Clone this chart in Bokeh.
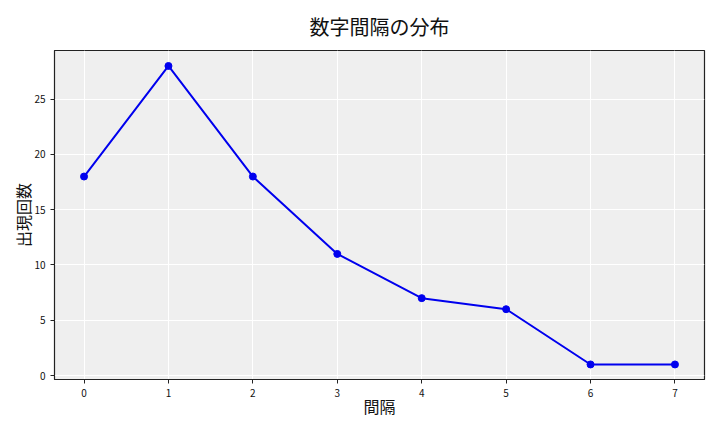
from bokeh.plotting import figure
from bokeh.embed import file_html
from bokeh.resources import INLINE
from bokeh.models import Range1d, FixedTicker, Spacer
from bokeh.layouts import row

gaps = [0, 1, 2, 3, 4, 5, 6, 7]
counts = [18, 28, 18, 11, 7, 6, 1, 1]
x_ticks = [0, 1, 2, 3, 4, 5, 6, 7]
y_ticks = [0, 5, 10, 15, 20, 25]

FONT = "Noto Sans CJK JP"

p = figure(output_backend="svg", toolbar_location=None,
           frame_width=650, frame_height=329,
           x_range=Range1d(-0.35, 7.35), y_range=Range1d(-0.36, 29.4),
           title="数字間隔の分布")
p.min_border_left = 0
p.min_border_right = 7
p.min_border_top = 0
p.min_border_bottom = 0

p.title.align = "center"
p.title.text_font = FONT
p.title.text_font_size = "20px"
p.title.text_font_style = "normal"
p.title.text_color = "#111111"
p.title.standoff = 19

p.background_fill_color = "#efefef"
p.border_fill_color = "white"
p.outline_line_color = "#222222"
p.outline_line_width = 1.2

p.xgrid.grid_line_color = "white"
p.ygrid.grid_line_color = "white"
p.xgrid.grid_line_width = 1
p.ygrid.grid_line_width = 1

for ax in (p.xaxis[0], p.yaxis[0]):
    ax.axis_line_color = "#222222"
    ax.major_tick_line_color = "#222222"
    ax.major_tick_out = 4
    ax.major_tick_in = 0
    ax.minor_tick_line_color = None
    ax.major_label_standoff = 5
    ax.major_label_text_font = FONT
    ax.major_label_text_font_size = "10px"
    ax.major_label_text_color = "#111111"
    ax.axis_label_text_font = FONT
    ax.axis_label_text_font_size = "16px"
    ax.axis_label_text_font_style = "normal"
    ax.axis_label_text_color = "#111111"

p.xaxis.ticker = FixedTicker(ticks=x_ticks)
p.yaxis.ticker = FixedTicker(ticks=y_ticks)
p.xaxis.axis_label = "間隔"
p.yaxis.axis_label = "出現回数"
p.xaxis.axis_label_standoff = -6
p.yaxis.axis_label_standoff = -4

p.line(gaps, counts, line_color="#0000ee", line_width=2)
p.scatter(gaps, counts, size=7, fill_color="#0000ee", line_color="#0000ee")

layout = row(Spacer(width=8, height=10), p)
open("out.html", "w").write(file_html(layout, INLINE))
